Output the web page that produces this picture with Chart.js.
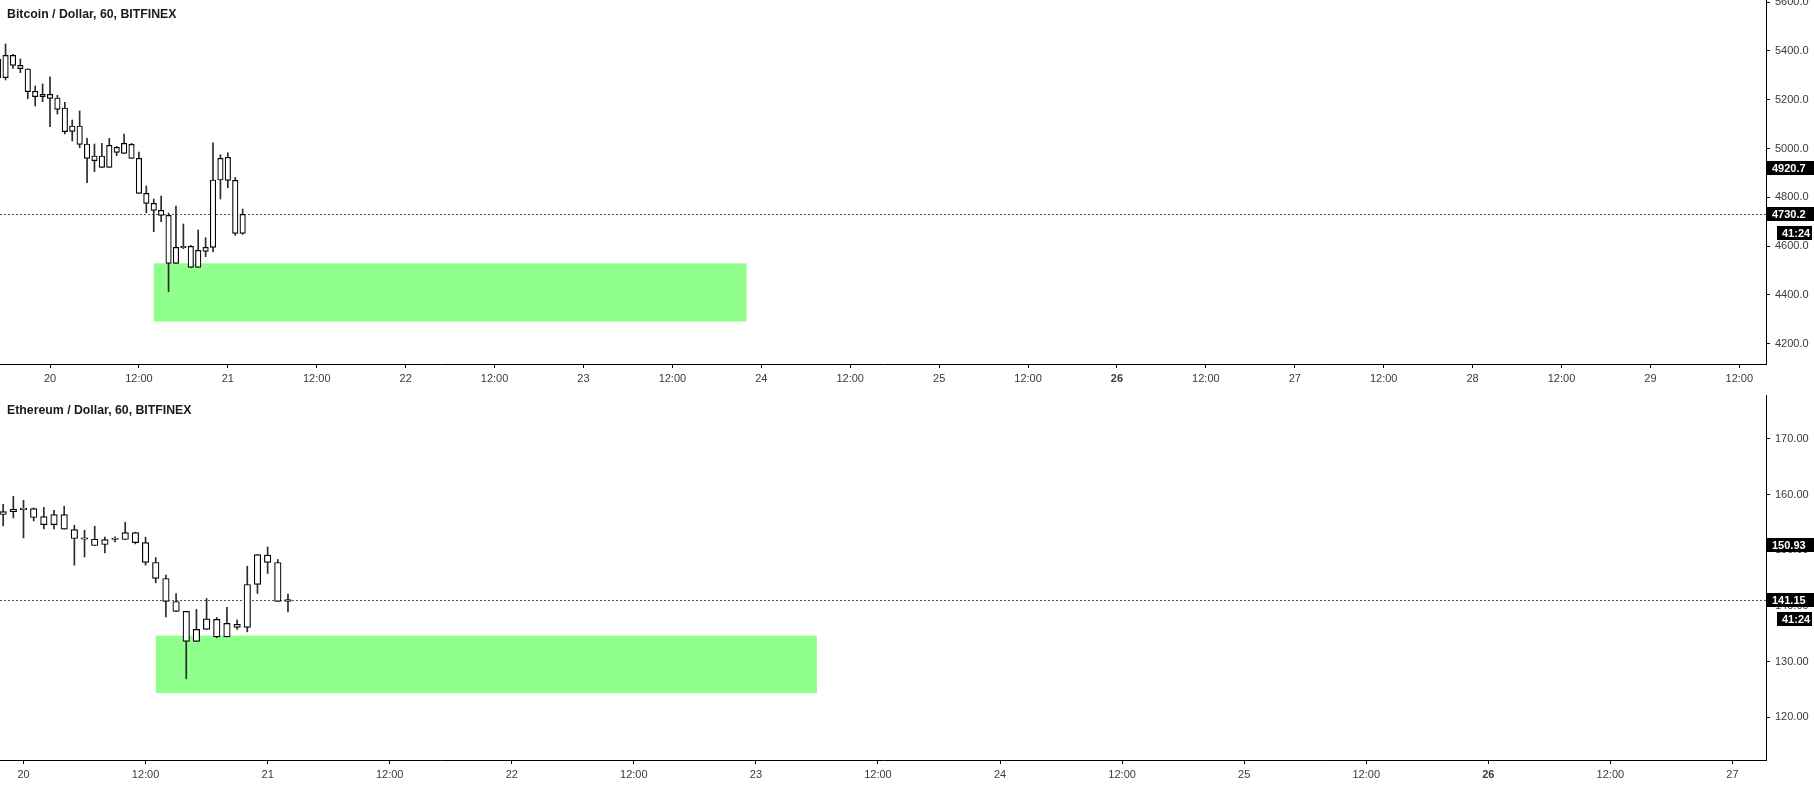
<!DOCTYPE html>
<html><head><meta charset="utf-8">
<script src="https://cdn.jsdelivr.net/npm/chart.js@4.4.0/dist/chart.umd.min.js"></script>
<style>
html,body{margin:0;padding:0;background:#fff;overflow:hidden}
#w{position:relative;width:1814px;height:785px;background:#fff}
canvas{position:absolute;left:0}
</style></head><body>
<div id="w">
<canvas id="btc" width="1814" height="394" style="top:0px"></canvas>
<canvas id="eth" width="1814" height="391" style="top:394px"></canvas>
</div>
<script>
// ---------- Bitcoin / Dollar, hourly (x = hours since 19th 00:00) ----------
const btcHours = [17,18,19,20,21,22,23,24,25,26,27,28,29,30,31,32,33,34,35,36,37,38,39,40,41,42,43,44,45,46,47,48,49,50];
const btcOpen  = [5366.9,5290.2,5382.0,5341.0,5325.9,5234.4,5212.3,5222.1,5207.0,5166.0,5070.4,5092.2,5018.4,4949.9,4969.2,4922.8,5004.8,4980.2,5017.1,4959.7,4816.2,4775.2,4746.5,4726.0,4529.2,4593.2,4598.9,4512.8,4578.4,4594.8,4870.8,4963.8,4869.5,4652.2];
const btcHigh  = [5379.2,5428.4,5386.1,5366.9,5327.0,5256.2,5264.4,5294.3,5218.0,5189.3,5116.8,5153.7,5041.7,5018.4,5021.2,5041.7,5008.9,5059.4,5021.2,4985.6,4846.2,4792.9,4805.2,4735.5,4764.2,4690.4,4603.0,4665.8,4634.2,5023.7,4974.5,4982.7,4881.8,4751.9];
const btcLow   = [5280.8,5280.8,5328.7,5310.7,5204.1,5174.2,5191.8,5089.3,5141.4,5059.4,5030.7,5003.2,4859.7,4904.8,4922.8,4922.8,4970.4,4980.2,4959.7,4816.2,4736.7,4658.8,4699.8,4412.8,4529.2,4589.1,4512.8,4512.8,4556.3,4576.8,4792.9,4839.2,4644.0,4648.1];
const btcClose = [5290.2,5382.0,5341.0,5327.1,5232.8,5212.3,5222.1,5205.7,5160.6,5068.8,5092.2,5017.1,4959.7,4969.2,4922.8,5013.0,4984.3,5021.2,4959.7,4816.2,4775.2,4746.5,4726.0,4529.2,4594.8,4598.9,4512.8,4582.5,4594.8,4870.8,4959.7,4869.5,4652.2,4730.2];
const btcZoneTime  = [38, 118];
const btcZonePrice = [4290.2, 4529.2];
const btcMarker = 4920.7;
const btcYTicks = [4200,4400,4600,4800,5000,5200,5400,5600];
const btcYTickLabels = ['4200.0','4400.0','4600.0','4800.0','5000.0','5200.0','5400.0','5600.0'];
const btcXTicks = [24,36,48,60,72,84,96,108,120,132,144,156,168,180,192,204,216,228,240,252];
const btcXTickLabels = ['20','12:00','21','12:00','22','12:00','23','12:00','24','12:00','25','12:00','26','12:00','27','12:00','28','12:00','29','12:00'];

// ---------- Ethereum / Dollar, hourly ----------
const ethHours = [22,23,24,25,26,27,28,29,30,31,32,33,34,35,36,37,38,39,40,41,42,43,44,45,46,47,48,49,50];
const ethOpen  = [156.41,156.94,157.30,157.48,156.05,154.61,156.41,153.72,152.16,151.98,151.03,151.92,151.92,153.18,151.38,147.80,144.93,140.80,139.01,133.63,135.78,137.58,134.45,136.68,136.14,143.85,149.11,147.80,140.80];
const ethHigh  = [158.25,159.69,158.97,157.59,157.72,157.18,157.89,154.49,153.59,154.31,152.34,152.39,155.03,153.23,152.34,148.69,145.52,142.24,139.01,139.37,141.34,137.93,139.73,137.45,147.13,149.23,150.60,148.34,142.11];
const ethLow   = [154.36,155.80,152.21,155.26,153.82,153.82,153.77,147.31,148.80,150.85,149.52,151.49,151.92,151.13,147.31,144.14,138.04,139.01,126.92,133.63,135.78,134.28,134.45,135.78,135.35,142.24,145.82,140.80,138.94];
const ethClose = [156.94,157.36,157.48,155.87,154.61,156.41,153.77,152.10,151.98,150.85,151.92,152.03,153.18,151.38,147.80,144.93,140.80,139.01,133.63,135.78,137.68,134.45,136.86,136.14,143.85,149.23,147.80,140.80,141.15];
const ethZoneTime  = [37, 102];
const ethZonePrice = [124.36, 134.67];
const ethMarker = 150.93;
const ethYTicks = [120,130,140,150,160,170];
const ethYTickLabels = ['120.00','130.00','140.00','150.00','160.00','170.00'];
const ethXTicks = [24,36,48,60,72,84,96,108,120,132,144,156,168,180,192];
const ethXTickLabels = ['20','12:00','21','12:00','22','12:00','23','12:00','24','12:00','25','12:00','26','12:00','27'];

const countdown = '41:24';
const boldTickLabel = '26';

const TICK_FONT = '"Liberation Sans", Arial, sans-serif';

function makeChart(id, d) {
  const body = d.hours.map((h, i) => ({x: h, y: [d.open[i], d.close[i]]}));
  const wick = d.hours.map((h, i) => ({x: h, y: [d.low[i], d.high[i]]}));
  const last = d.close[d.close.length - 1];

  const bgPlugin = {
    id: 'bg_' + id,
    beforeDatasetsDraw(chart) {
      const c = chart.ctx, xs = chart.scales.x, ys = chart.scales.y, a = chart.chartArea;
      c.save();
      c.beginPath(); c.rect(a.left, a.top, a.right - a.left, a.bottom - a.top); c.clip();
      const x0 = xs.getPixelForValue(d.zoneTime[0]), x1 = xs.getPixelForValue(d.zoneTime[1]);
      const y0 = ys.getPixelForValue(d.zonePrice[1]), y1 = ys.getPixelForValue(d.zonePrice[0]);
      c.fillStyle = 'rgb(144,255,140)';
      c.fillRect(x0, y0, x1 - x0, y1 - y0);
      const yl = Math.round(ys.getPixelForValue(last)) + 0.5;
      c.strokeStyle = '#555'; c.lineWidth = 1; c.setLineDash([2, 2]);
      c.beginPath(); c.moveTo(a.left, yl); c.lineTo(a.right, yl); c.stroke();
      c.restore();
    },
    afterDraw(chart) {
      const c = chart.ctx, ys = chart.scales.y, a = chart.chartArea;
      c.save();
      c.font = 'bold 12.3px "Liberation Sans", Arial, sans-serif';
      c.fillStyle = '#1a1a1a'; c.textBaseline = 'middle'; c.textAlign = 'left';
      c.fillText(d.title, 7, d.titleY);
      function tag(x0, x1, yc, txt) {
        c.fillStyle = '#000';
        c.fillRect(x0, Math.round(yc - 7), x1 - x0, 14);
        c.fillStyle = '#fff';
        c.font = 'bold 11px "Liberation Sans", Arial, sans-serif';
        c.textBaseline = 'middle';
        c.fillText(txt, x0 + 5, Math.round(yc) + 0.5);
      }
      const ym = ys.getPixelForValue(d.marker);
      tag(a.right + 1, 1814, ym, d.marker.toFixed(d.dec));
      const yc = ys.getPixelForValue(last);
      tag(a.right + 1, 1814, yc, last.toFixed(d.dec));
      tag(a.right + 11, 1812, yc + 19, countdown);
      c.restore();
    }
  };

  function xFont(ctx) {
    const v = ctx && ctx.tick ? ctx.tick.value : null;
    const lbl = v === null ? '' : d.xTickLabels[d.xTicks.indexOf(v)];
    return {family: TICK_FONT, size: 11, weight: lbl === boldTickLabel ? 'bold' : 'normal'};
  }
  function noPad(ax) { ax.paddingTop = 0; ax.paddingBottom = 0; ax.paddingLeft = 0; ax.paddingRight = 0; }

  return new Chart(document.getElementById(id), {
    type: 'bar',
    data: {datasets: [
      {label: 'body', data: body, backgroundColor: '#fff', borderColor: '#000', borderWidth: 1.2,
       borderSkipped: false, barThickness: d.bodyW, grouped: false, minBarLength: 1.5},
      {label: 'wick', data: wick, backgroundColor: '#2a2a2a', borderWidth: 0,
       barThickness: 1, grouped: false}
    ]},
    options: {
      responsive: false, animation: false, devicePixelRatio: 1,
      layout: {padding: {top: d.padTop, left: 0, right: 0, bottom: 0}},
      plugins: {legend: {display: false}, tooltip: {enabled: false}, title: {display: false}},
      scales: {
        x: {
          type: 'linear', min: d.xRange[0], max: d.xRange[1], offset: false,
          afterBuildTicks: ax => { ax.ticks = d.xTicks.map(v => ({value: v})); },
          afterFit: ax => { ax.height = d.xAxisH; noPad(ax); },
          grid: {display: true, offset: false, drawOnChartArea: false, drawTicks: true, tickLength: 4, color: '#000'},
          border: {display: true, color: '#000', width: 1},
          ticks: {
            autoSkip: false, maxRotation: 0, minRotation: 0, padding: 4, color: '#3a3a3a',
            font: xFont,
            callback: v => d.xTickLabels[d.xTicks.indexOf(v)]
          }
        },
        y: {
          type: 'linear', position: 'right', min: d.yRange[0], max: d.yRange[1],
          afterBuildTicks: ax => { ax.ticks = d.yTicks.map(v => ({value: v})); },
          afterFit: ax => { ax.width = 48; noPad(ax); },
          grid: {display: true, offset: false, drawOnChartArea: false, drawTicks: true, tickLength: 4, color: '#000'},
          border: {display: true, color: '#000', width: 1},
          ticks: {
            autoSkip: false, padding: 5, color: '#3a3a3a', font: {family: TICK_FONT, size: 11},
            callback: v => d.yTickLabels[d.yTicks.indexOf(v)]
          }
        }
      }
    },
    plugins: [bgPlugin]
  });
}

makeChart('btc', {
  hours: btcHours, open: btcOpen, high: btcHigh, low: btcLow, close: btcClose,
  zoneTime: btcZoneTime, zonePrice: btcZonePrice, marker: btcMarker, dec: 1,
  yTicks: btcYTicks, yTickLabels: btcYTickLabels, xTicks: btcXTicks, xTickLabels: btcXTickLabels,
  xRange: [17.25, 255.6], yRange: [4116.4, 5608.8],
  bodyW: 5.5, padTop: 0, xAxisH: 30, title: 'Bitcoin / Dollar, 60, BITFINEX', titleY: 15
});
makeChart('eth', {
  hours: ethHours, open: ethOpen, high: ethHigh, low: ethLow, close: ethClose,
  zoneTime: ethZoneTime, zonePrice: ethZonePrice, marker: ethMarker, dec: 2,
  yTicks: ethYTicks, yTickLabels: ethYTickLabels, xTicks: ethXTicks, xTickLabels: ethXTickLabels,
  xRange: [21.69, 195.3], yRange: [112.34, 177.87],
  bodyW: 6.5, padTop: 1, xAxisH: 25, title: 'Ethereum / Dollar, 60, BITFINEX', titleY: 17
});
</script>
</body></html>
